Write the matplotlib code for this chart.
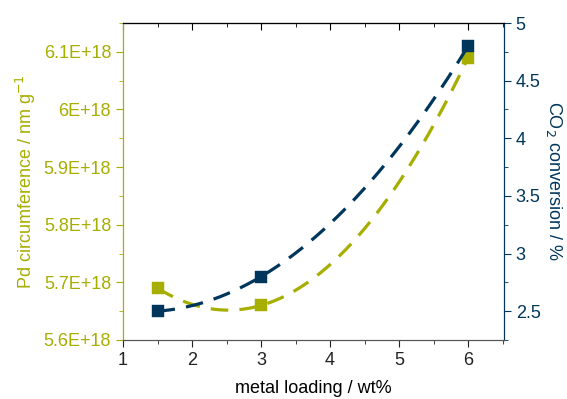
import numpy as np
import matplotlib.pyplot as plt
from matplotlib.ticker import FuncFormatter, MultipleLocator

plt.rcParams['font.family'] = ['Liberation Sans', 'DejaVu Sans']
plt.rcParams['font.size'] = 13

GREEN = '#a6ae00'
BLUE = '#00365c'

# data
loading = [1.5, 3.0, 6.0]
pd_circ = [5.69e18, 5.66e18, 6.09e18]
co2_conv = [2.5, 2.8, 4.8]

fig = plt.figure(figsize=(5.67, 3.99), dpi=100)
ax = fig.add_axes([123 / 567, 59 / 399, 381 / 567, 317 / 399])
ax2 = ax.twinx()

# quadratic trend lines through the measured points
xf = np.linspace(1.5, 6.0, 200)
c1 = np.polyfit(loading, pd_circ, 2)
c2 = np.polyfit(loading, co2_conv, 2)
ax.plot(xf, np.polyval(c1, xf), color=GREEN, lw=2.3, dashes=(5.5, 3.5), zorder=2)
ax2.plot(xf, np.polyval(c2, xf), color=BLUE, lw=2.3, dashes=(5.5, 3.5), zorder=2)
ax.plot(loading, pd_circ, 's', color=GREEN, ms=9.3, mew=0.3, zorder=3)
ax2.plot(loading, co2_conv, 's', color=BLUE, ms=9.3, mew=0.3, zorder=3)

ax.set_xlim(1, 6.52)
ax.set_ylim(5.6e18, 6.15e18)
ax2.set_ylim(2.25, 5.0)

ax.xaxis.set_major_locator(MultipleLocator(1))
ax.xaxis.set_minor_locator(MultipleLocator(0.5))
ax.yaxis.set_major_locator(MultipleLocator(0.1e18))
ax.yaxis.set_minor_locator(MultipleLocator(0.05e18))
ax.yaxis.set_major_formatter(FuncFormatter(lambda v, p: f'{v / 1e18:g}E+18'))
ax2.yaxis.set_major_locator(MultipleLocator(0.5))
ax2.yaxis.set_minor_locator(MultipleLocator(0.25))
ax2.yaxis.set_major_formatter(FuncFormatter(lambda v, p: f'{v:g}'))

# top axis: inward ticks, no labels
top = ax.secondary_xaxis('top')
top.xaxis.set_major_locator(MultipleLocator(1))
top.xaxis.set_minor_locator(MultipleLocator(0.5))
top.tick_params(which='both', direction='in', labeltop=False, colors='black')
top.tick_params(which='major', length=5)
top.tick_params(which='minor', length=3)
top.spines['top'].set_color('black')

ax.tick_params(axis='x', which='both', direction='out', top=False, colors='#222222')
ax.tick_params(axis='x', which='major', length=5, labelsize=13)
ax.tick_params(axis='x', which='minor', length=3)
ax.tick_params(axis='y', which='both', direction='out', colors=GREEN, labelsize=13)
ax.tick_params(axis='y', which='major', length=5)
ax.tick_params(axis='y', which='minor', length=3)
ax2.tick_params(axis='y', which='both', direction='out', colors=BLUE, labelsize=13)
ax2.tick_params(axis='y', which='major', length=5)
ax2.tick_params(axis='y', which='minor', length=3)

for a in (ax, ax2):
    a.spines['left'].set_color(GREEN)
    a.spines['right'].set_color(BLUE)
    a.spines['bottom'].set_color('#555555')
    a.spines['top'].set_color('black')

ax.set_xlabel('metal loading / wt%', fontsize=13, labelpad=8)
ax.set_ylabel('Pd circumference / nm g$^{-1}$', color=GREEN, fontsize=13, labelpad=4)
ax2.set_ylabel('CO$_2$ conversion / %', color=BLUE, fontsize=13, rotation=270, labelpad=17)

fig.savefig('out.png', dpi=100)
